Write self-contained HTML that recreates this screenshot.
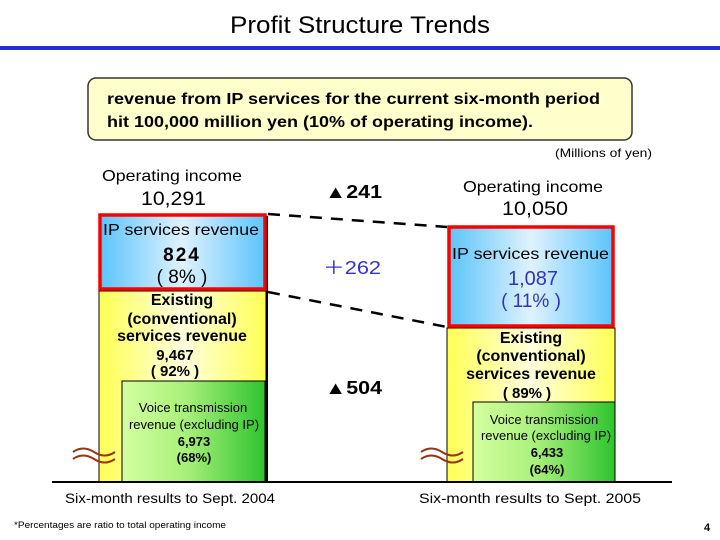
<!DOCTYPE html>
<html><head><meta charset="utf-8"><style>
html,body{margin:0;padding:0;background:#fff;}
svg{display:block;}
text{font-family:"Liberation Sans",Arial,sans-serif;}
</style></head><body>
<svg width="720" height="540" viewBox="0 0 720 540" xmlns="http://www.w3.org/2000/svg">
<defs>
<linearGradient id="ip" x1="0" x2="1" y1="0" y2="0">
<stop offset="0" stop-color="#5cc4fb"/><stop offset="0.5" stop-color="#dff2fe"/><stop offset="1" stop-color="#5cc4fb"/></linearGradient>
<linearGradient id="ye" x1="0" x2="1" y1="0" y2="0">
<stop offset="0" stop-color="#ffff55"/><stop offset="0.5" stop-color="#ffffdd"/><stop offset="1" stop-color="#ffff55"/></linearGradient>
<linearGradient id="gr" x1="0" x2="1" y1="0" y2="0">
<stop offset="0" stop-color="#d4ffa0"/><stop offset="0.45" stop-color="#a8f07a"/><stop offset="1" stop-color="#2ec42e"/></linearGradient>
</defs>
<text x="230" y="33" font-size="24" textLength="260" lengthAdjust="spacingAndGlyphs">Profit Structure Trends</text>
<rect x="0" y="46" width="720" height="4" fill="#1f2fd8"/>
<rect x="88" y="78" width="544" height="62" rx="8" fill="#ffffcc" stroke="#333" stroke-width="1.5"/>
<text x="107" y="104" font-size="16" font-weight="bold" textLength="493" lengthAdjust="spacingAndGlyphs">revenue from IP services for the current six-month period</text>
<text x="107" y="127" font-size="16" font-weight="bold" textLength="426" lengthAdjust="spacingAndGlyphs">hit 100,000 million yen (10% of operating income).</text>
<text x="555" y="157" font-size="12" textLength="97" lengthAdjust="spacingAndGlyphs">(Millions of yen)</text>

<!-- left bar -->
<rect x="99" y="291" width="167" height="191" fill="url(#ye)" stroke="#000" stroke-width="1"/>
<rect x="122" y="381" width="143" height="101" fill="url(#gr)" stroke="#000" stroke-width="1"/>
<rect x="266" y="216" width="2" height="266" fill="#000"/>
<rect x="100" y="215" width="165" height="74" fill="url(#ip)" stroke="#f00" stroke-width="3.5"/>
<text x="102" y="181" font-size="16" textLength="140" lengthAdjust="spacingAndGlyphs">Operating income</text>
<text x="141" y="205" font-size="19" textLength="65" lengthAdjust="spacingAndGlyphs">10,291</text>
<text x="103" y="235" font-size="16" textLength="156" lengthAdjust="spacingAndGlyphs">IP services revenue</text>
<text x="182" y="261" font-size="19" font-weight="bold" text-anchor="middle" letter-spacing="2">824</text>
<text x="182" y="283" font-size="19" text-anchor="middle" xml:space="preserve">( 8% )</text>
<text x="182" y="305" font-size="16" font-weight="bold" text-anchor="middle">Existing</text>
<text x="182" y="324" font-size="16" font-weight="bold" text-anchor="middle">(conventional)</text>
<text x="182" y="341" font-size="16" font-weight="bold" text-anchor="middle">services revenue</text>
<text x="175" y="360" font-size="15" font-weight="bold" text-anchor="middle">9,467</text>
<text x="175" y="376" font-size="15" font-weight="bold" text-anchor="middle" xml:space="preserve">( 92% )</text>
<text x="193" y="412" font-size="13" text-anchor="middle">Voice transmission</text>
<text x="194" y="429" font-size="13" text-anchor="middle">revenue (excluding IP)</text>
<text x="194" y="446" font-size="13" font-weight="bold" text-anchor="middle">6,973</text>
<text x="194" y="462" font-size="13" font-weight="bold" text-anchor="middle">(68%)</text>

<!-- right bar -->
<rect x="447" y="328" width="168" height="154" fill="url(#ye)" stroke="#000" stroke-width="1"/>
<rect x="473" y="402" width="142" height="80" fill="url(#gr)" stroke="#000" stroke-width="1"/>
<rect x="449" y="227" width="164" height="99" fill="url(#ip)" stroke="#f00" stroke-width="3.5"/>
<text x="463" y="192" font-size="16" textLength="140" lengthAdjust="spacingAndGlyphs">Operating income</text>
<text x="502" y="215" font-size="19" textLength="66" lengthAdjust="spacingAndGlyphs">10,050</text>
<text x="452" y="259" font-size="16" textLength="157" lengthAdjust="spacingAndGlyphs">IP services revenue</text>
<text x="533" y="285" font-size="20" text-anchor="middle" fill="#3333bb">1,087</text>
<text x="531" y="307" font-size="19" text-anchor="middle" fill="#3333bb" xml:space="preserve">( 11% )</text>
<text x="531" y="343" font-size="16" font-weight="bold" text-anchor="middle">Existing</text>
<text x="531" y="361" font-size="16" font-weight="bold" text-anchor="middle">(conventional)</text>
<text x="531" y="379" font-size="16" font-weight="bold" text-anchor="middle">services revenue</text>
<text x="527" y="398" font-size="15" font-weight="bold" text-anchor="middle" xml:space="preserve">( 89% )</text>
<text x="544" y="424" font-size="13" text-anchor="middle">Voice transmission</text>
<text x="546" y="440" font-size="13" text-anchor="middle">revenue (excluding IP)</text>
<text x="547" y="457" font-size="13" font-weight="bold" text-anchor="middle">6,433</text>
<text x="547" y="474" font-size="13" font-weight="bold" text-anchor="middle">(64%)</text>

<!-- dashed connectors -->
<line x1="268" y1="214" x2="447" y2="227" stroke="#000" stroke-width="2.5" stroke-dasharray="12,9"/>
<line x1="268" y1="292" x2="447" y2="327" stroke="#000" stroke-width="2.5" stroke-dasharray="12,9"/>

<text x="325" y="198" font-size="18" font-weight="bold" textLength="57" lengthAdjust="spacingAndGlyphs">▲241</text>
<text x="323" y="274" font-size="18" fill="#3333cc" textLength="58" lengthAdjust="spacingAndGlyphs">＋262</text>
<text x="325" y="394" font-size="18" font-weight="bold" textLength="57" lengthAdjust="spacingAndGlyphs">▲504</text>

<!-- baseline -->
<rect x="52" y="481" width="620" height="2" fill="#000"/>

<!-- wavy marks -->
<g fill="none" stroke="#993311" stroke-width="2">
<path d="M73,452 q10,-7 21,0 t21,0"/><path d="M73,459 q10,-7 21,0 t21,0"/>
<path d="M421,452 q10,-7 21,0 t21,0"/><path d="M421,459 q10,-7 21,0 t21,0"/>
</g>

<text x="65" y="503" font-size="14" textLength="210" lengthAdjust="spacingAndGlyphs">Six-month results to Sept. 2004</text>
<text x="419" y="503" font-size="14" textLength="222" lengthAdjust="spacingAndGlyphs">Six-month results to Sept. 2005</text>
<text x="14" y="528" font-size="9" textLength="212" lengthAdjust="spacingAndGlyphs">*Percentages are ratio to total operating income</text>
<text x="704" y="531" font-size="11" font-weight="bold">4</text>
</svg>
</body></html>
